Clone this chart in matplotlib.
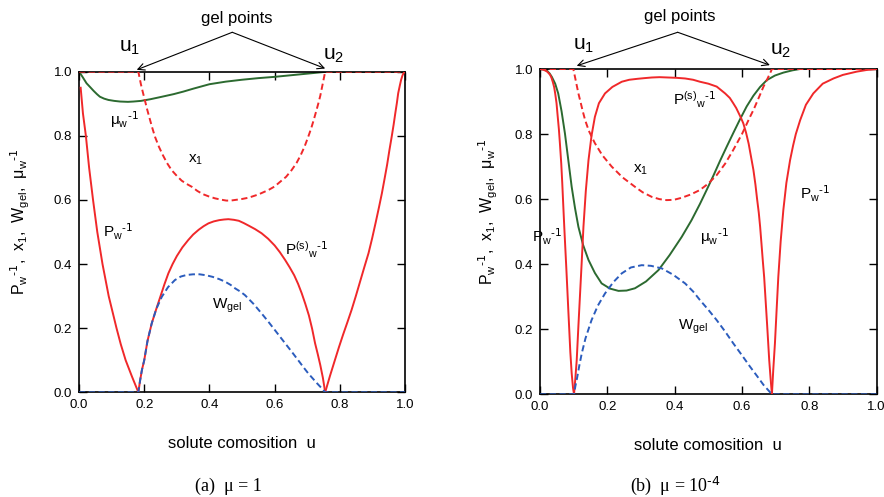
import numpy as np
import matplotlib
matplotlib.use("Agg")
import matplotlib.pyplot as plt

plt.rcParams['font.family'] = ['Liberation Sans', 'DejaVu Sans']
plt.rcParams['mathtext.default'] = 'regular'

# ---- panel (a): mu = 1 ----
a_pw1_u = [0.005, 0.012, 0.021, 0.031, 0.043, 0.056, 0.072, 0.091, 0.115,
           0.128, 0.143, 0.162, 0.182]
a_pw1_v = [0.95, 0.87, 0.80, 0.70, 0.60, 0.50, 0.40, 0.30, 0.20,
           0.15, 0.10, 0.05, 0.0]
a_ps_u = [0.182, 0.187, 0.193, 0.2, 0.21, 0.223, 0.237, 0.25, 0.262, 0.274, 0.287,
          0.30, 0.317, 0.335, 0.35, 0.367, 0.382, 0.397, 0.413, 0.43, 0.445, 0.458,
          0.475, 0.49, 0.505, 0.52, 0.54, 0.56, 0.58, 0.60, 0.616, 0.632, 0.646,
          0.66, 0.672, 0.683, 0.694, 0.705, 0.715, 0.724, 0.732, 0.74, 0.748, 0.755]
a_ps_v = [0.0, 0.035, 0.07, 0.10, 0.16, 0.215, 0.26, 0.30, 0.337, 0.371, 0.40,
          0.425, 0.452, 0.475, 0.492, 0.507, 0.518, 0.527, 0.533, 0.537, 0.539, 0.54,
          0.538, 0.535, 0.528, 0.52, 0.509, 0.496, 0.479, 0.458, 0.437, 0.413, 0.39,
          0.365, 0.338, 0.309, 0.276, 0.24, 0.198, 0.153, 0.12, 0.085, 0.045, 0.0]
a_pw2_u = [0.755, 0.77, 0.785, 0.797, 0.81, 0.823, 0.836, 0.849, 0.862, 0.875, 0.888,
           0.899, 0.91, 0.92, 0.929, 0.937, 0.945, 0.952, 0.959, 0.965, 0.97, 0.975,
           0.979, 0.984, 0.988, 0.992, 0.995, 1.0]
a_pw2_v = [0.0, 0.052, 0.101, 0.14, 0.18, 0.218, 0.257, 0.30, 0.345, 0.39, 0.434,
           0.48, 0.53, 0.577, 0.621, 0.665, 0.71, 0.755, 0.797, 0.835, 0.87, 0.903,
           0.933, 0.957, 0.975, 0.988, 0.995, 1.0]
a_mu_u = [0.0, 0.01, 0.023, 0.035, 0.045, 0.055, 0.064, 0.077, 0.09, 0.108, 0.126,
          0.15, 0.167, 0.19, 0.218, 0.25, 0.29, 0.32, 0.35, 0.4, 0.45, 0.5, 0.55,
          0.6, 0.65, 0.7, 0.73, 0.76, 1.0]
a_mu_v = [1.0, 0.985, 0.964, 0.951, 0.94, 0.93, 0.922, 0.916, 0.912, 0.909, 0.907,
          0.906, 0.907, 0.909, 0.914, 0.921, 0.93, 0.938, 0.947, 0.961, 0.969, 0.975,
          0.98, 0.984, 0.989, 0.994, 0.997, 1.0, 1.0]
a_x1_u = [0.0, 0.182, 0.186, 0.19, 0.196, 0.202, 0.208, 0.215, 0.224, 0.233, 0.245,
          0.257, 0.27, 0.284, 0.30, 0.315, 0.33, 0.346, 0.363, 0.38, 0.398, 0.417,
          0.435, 0.452, 0.465, 0.479, 0.5, 0.52, 0.55, 0.581, 0.6, 0.615, 0.635,
          0.652, 0.667, 0.68, 0.692, 0.703, 0.712, 0.72, 0.727, 0.734, 0.74, 0.745,
          0.75, 0.755, 1.0]
a_x1_v = [1.0, 1.0, 0.98, 0.96, 0.935, 0.911, 0.886, 0.86, 0.827, 0.797, 0.766,
          0.74, 0.715, 0.693, 0.675, 0.66, 0.65, 0.641, 0.628, 0.618, 0.611, 0.605,
          0.601, 0.598, 0.598, 0.6, 0.603, 0.607, 0.617, 0.631, 0.642, 0.655, 0.672,
          0.693, 0.715, 0.74, 0.767, 0.797, 0.823, 0.85, 0.875, 0.901, 0.925, 0.95,
          0.975, 1.0, 1.0]
a_wg_u = [0.0, 0.182, 0.187, 0.193, 0.2, 0.21, 0.223, 0.237, 0.254, 0.273, 0.294,
          0.312, 0.33, 0.35, 0.37, 0.39, 0.41, 0.43, 0.448, 0.465, 0.479, 0.495,
          0.509, 0.535, 0.56, 0.58, 0.6, 0.616, 0.632, 0.652, 0.67, 0.687, 0.703,
          0.717, 0.73, 0.743, 0.755, 1.0]
a_wg_v = [0.0, 0.0, 0.035, 0.07, 0.10, 0.16, 0.215, 0.26, 0.298, 0.328, 0.35,
          0.361, 0.366, 0.368, 0.368, 0.365, 0.36, 0.353, 0.345, 0.335, 0.324, 0.314,
          0.303, 0.276, 0.246, 0.221, 0.195, 0.174, 0.153, 0.127, 0.103, 0.08, 0.059,
          0.043, 0.028, 0.014, 0.0, 0.0]

# ---- panel (b): mu = 1e-4 ----
b_pw1_u = [0.0, 0.01, 0.02, 0.025, 0.03, 0.034, 0.038, 0.042, 0.045, 0.049, 0.052,
           0.056, 0.059, 0.063, 0.066, 0.069, 0.072, 0.075, 0.078, 0.081, 0.084,
           0.087, 0.09, 0.094, 0.098, 0.101]
b_pw1_v = [1.0, 0.998, 0.993, 0.988, 0.982, 0.973, 0.96, 0.944, 0.925, 0.895, 0.86,
           0.815, 0.772, 0.71, 0.65, 0.582, 0.515, 0.452, 0.39, 0.325, 0.259,
           0.195, 0.13, 0.065, 0.02, 0.0]
b_ps_u = [0.101, 0.105, 0.109, 0.114, 0.119, 0.124, 0.129, 0.136, 0.144, 0.153, 0.163,
          0.175, 0.193, 0.215, 0.243, 0.265, 0.29, 0.31, 0.332, 0.355, 0.38, 0.405,
          0.431, 0.455, 0.475, 0.5, 0.525, 0.55, 0.564, 0.574, 0.583, 0.59, 0.597,
          0.604, 0.612, 0.62, 0.627, 0.634, 0.64, 0.645, 0.65, 0.654, 0.658, 0.662,
          0.666, 0.669, 0.675, 0.681, 0.685, 0.689]
b_ps_v = [0.0, 0.05, 0.105, 0.21, 0.31, 0.41, 0.515, 0.625, 0.72, 0.795, 0.853,
          0.895, 0.925, 0.945, 0.961, 0.967, 0.97, 0.972, 0.974, 0.975, 0.974, 0.973,
          0.971, 0.967, 0.961, 0.955, 0.946, 0.925, 0.911, 0.895, 0.88, 0.865, 0.85,
          0.833, 0.805, 0.77, 0.73, 0.69, 0.645, 0.60, 0.558, 0.515, 0.463, 0.41,
          0.36, 0.31, 0.21, 0.105, 0.05, 0.0]
b_pw2_u = [0.689, 0.693, 0.698, 0.703, 0.708, 0.715, 0.723, 0.732, 0.743, 0.752, 0.76,
           0.773, 0.79, 0.812, 0.84, 0.872, 0.9, 0.941, 0.97, 1.0]
b_pw2_v = [0.0, 0.075, 0.157, 0.26, 0.361, 0.47, 0.567, 0.65, 0.72, 0.765, 0.8,
           0.843, 0.89, 0.925, 0.955, 0.971, 0.982, 0.992, 0.997, 1.0]
b_mu_u = [0.0, 0.01, 0.02, 0.028, 0.035, 0.045, 0.054, 0.064, 0.074, 0.084, 0.094,
          0.104, 0.114, 0.128, 0.144, 0.163, 0.183, 0.208, 0.233, 0.257, 0.282, 0.315,
          0.352, 0.385, 0.421, 0.45, 0.475, 0.495, 0.515, 0.535, 0.555, 0.575, 0.594,
          0.614, 0.634, 0.654, 0.674, 0.698, 0.723, 0.75, 0.772, 0.8, 1.0]
b_mu_v = [1.0, 0.999, 0.995, 0.987, 0.976, 0.955, 0.925, 0.87, 0.802, 0.72, 0.638,
          0.572, 0.515, 0.459, 0.413, 0.373, 0.341, 0.325, 0.318, 0.319, 0.326, 0.347,
          0.382, 0.428, 0.484, 0.535, 0.585, 0.628, 0.672, 0.718, 0.762, 0.805, 0.845,
          0.885, 0.918, 0.945, 0.966, 0.98, 0.989, 0.996, 1.0, 1.0, 1.0]
b_x1_u = [0.0, 0.099, 0.102, 0.105, 0.109, 0.114, 0.12, 0.127, 0.134, 0.145, 0.163,
          0.185, 0.213, 0.245, 0.282, 0.305, 0.332, 0.355, 0.376, 0.398, 0.42, 0.447,
          0.475, 0.5, 0.525, 0.55, 0.574, 0.6, 0.624, 0.635, 0.645, 0.655, 0.664,
          0.671, 0.678, 0.684, 0.689, 1.0]
b_x1_v = [1.0, 1.0, 0.985, 0.97, 0.95, 0.925, 0.9, 0.87, 0.843, 0.81, 0.772,
          0.735, 0.7, 0.667, 0.638, 0.621, 0.607, 0.6, 0.597, 0.598, 0.604, 0.614,
          0.628, 0.648, 0.674, 0.709, 0.751, 0.8, 0.853, 0.876, 0.9, 0.924, 0.946,
          0.96, 0.975, 0.988, 1.0, 1.0]
b_wg_u = [0.0, 0.101, 0.105, 0.11, 0.117, 0.124, 0.135, 0.153, 0.172, 0.193, 0.218,
          0.243, 0.27, 0.302, 0.33, 0.362, 0.395, 0.431, 0.455, 0.475, 0.5, 0.525,
          0.55, 0.574, 0.6, 0.624, 0.645, 0.664, 0.677, 0.689, 1.0]
b_wg_v = [0.0, 0.0, 0.025, 0.05, 0.09, 0.126, 0.172, 0.228, 0.273, 0.31, 0.345,
          0.372, 0.39, 0.397, 0.395, 0.387, 0.368, 0.341, 0.316, 0.29, 0.26, 0.228,
          0.193, 0.157, 0.12, 0.085, 0.056, 0.029, 0.014, 0.0, 0.0]

ticks = [0.0, 0.2, 0.4, 0.6, 0.8, 1.0]
tick_labels = ['0.0', '0.2', '0.4', '0.6', '0.8', '1.0']

RED = '#f0282a'
GREEN = '#2c6a30'
BLUE = '#2b5cbd'
LW = 1.4

ylabel = r'P$_w$$^{\text{-1}}$,  x$_1$,  W$_{gel}$,  μ$_w$$^{\text{-1}}$'
pw_lbl = r'P$_w$$^{\text{-1}}$'
ps_lbl = r'P$^{(s)}$$_w$$^{\text{-1}}$'
mu_lbl = r'μ$_w$$^{\text{-1}}$'
x1_lbl = 'x$_1$'
wg_lbl = 'W$_{gel}$'

fig = plt.figure(figsize=(8.84, 4.97), dpi=100)
axa = fig.add_axes([0.0894, 0.2107, 0.3688, 0.645])
axb = fig.add_axes([0.6109, 0.2066, 0.3807, 0.6545])


def draw(ax, d):
    ax.plot(d['mu'][0], d['mu'][1], color=GREEN, lw=LW, zorder=2)
    ax.plot(d['pw1'][0], d['pw1'][1], color=RED, lw=LW, zorder=3)
    ax.plot(d['ps'][0], d['ps'][1], color=RED, lw=LW, zorder=3)
    ax.plot(d['pw2'][0], d['pw2'][1], color=RED, lw=LW, zorder=3)
    ax.plot(d['x1'][0], d['x1'][1], color=RED, lw=LW, ls=(0, (3.2, 1.8)), zorder=3)
    ax.plot(d['wg'][0], d['wg'][1], color=BLUE, lw=LW, ls=(0, (3.2, 1.8)), zorder=4)
    ax.set_xlim(0, 1)
    ax.set_ylim(0, 1)
    ax.set_xticks(ticks)
    ax.set_xticklabels(tick_labels)
    ax.set_yticks(ticks)
    ax.set_yticklabels(tick_labels)
    ax.tick_params(direction='in', length=6, width=1, top=True, right=True,
                   labelsize=9.5, pad=5)
    for s in ax.spines.values():
        s.set_linewidth(1.2)
    ax.set_xlabel('solute comosition  u', fontsize=12, labelpad=18)


draw(axa, {'pw1': (a_pw1_u, a_pw1_v), 'ps': (a_ps_u, a_ps_v), 'pw2': (a_pw2_u, a_pw2_v),
           'mu': (a_mu_u, a_mu_v), 'x1': (a_x1_u, a_x1_v), 'wg': (a_wg_u, a_wg_v)})
draw(axb, {'pw1': (b_pw1_u, b_pw1_v), 'ps': (b_ps_u, b_ps_v), 'pw2': (b_pw2_u, b_pw2_v),
           'mu': (b_mu_u, b_mu_v), 'x1': (b_x1_u, b_x1_v), 'wg': (b_wg_u, b_wg_v)})

# curve labels, panel (a)
fs = 11
axa.text(0.095, 0.85, mu_lbl, fontsize=fs, va='center')
axa.text(0.334, 0.725, x1_lbl, fontsize=fs, va='center')
axa.text(0.074, 0.50, pw_lbl, fontsize=fs, va='center')
axa.text(0.407, 0.27, wg_lbl, fontsize=fs, va='center')
axa.text(0.632, 0.444, ps_lbl, fontsize=fs, va='center')

# curve labels, panel (b)
axb.text(0.395, 0.905, ps_lbl, fontsize=fs, va='center')
axb.text(0.276, 0.69, x1_lbl, fontsize=fs, va='center')
axb.text(-0.025, 0.484, pw_lbl, fontsize=fs, va='center')
axb.text(0.475, 0.485, mu_lbl, fontsize=fs, va='center')
axb.text(0.773, 0.616, pw_lbl, fontsize=fs, va='center')
axb.text(0.41, 0.207, wg_lbl, fontsize=fs, va='center')

# gel point arrows
arw = dict(arrowstyle='->', color='black', lw=0.8, shrinkA=0, shrinkB=0,
           mutation_scale=12)
for ax, apex, tips, gel_xy, u1_xy, u2_xy in [
        (axa, (0.47, 1.123), [(0.177, 1.006), (0.755, 1.01)], (0.485, 1.167),
         (0.156, 1.074), (0.782, 1.052)),
        (axb, (0.409, 1.113), [(0.109, 1.01), (0.683, 1.012)], (0.416, 1.16),
         (0.128, 1.071), (0.716, 1.058))]:
    for t in tips:
        ax.annotate('', xy=t, xytext=apex, arrowprops=arw, annotation_clip=False)
    ax.text(gel_xy[0], gel_xy[1], 'gel points', fontsize=12, ha='center',
            va='center', clip_on=False)
    ax.text(u1_xy[0], u1_xy[1], 'u$_1$', fontsize=15, ha='center', va='center',
            clip_on=False)
    ax.text(u2_xy[0], u2_xy[1], 'u$_2$', fontsize=15, ha='center', va='center',
            clip_on=False)

# y labels
fig.text(0.0226, 0.555, ylabel, rotation=90, fontsize=11.5, ha='center', va='center')
fig.text(0.552, 0.575, ylabel, rotation=90, fontsize=11.5, ha='center', va='center')

# captions
fig.text(0.258, 0.022, '(a)  μ = 1', fontsize=13, ha='center', va='center',
         family='Liberation Serif')
fig.text(0.764, 0.022, r'(b)  μ = 10$^{\text{-4}}$', fontsize=13, ha='center',
         va='center', family='Liberation Serif')

fig.savefig('out.png', dpi=100)
